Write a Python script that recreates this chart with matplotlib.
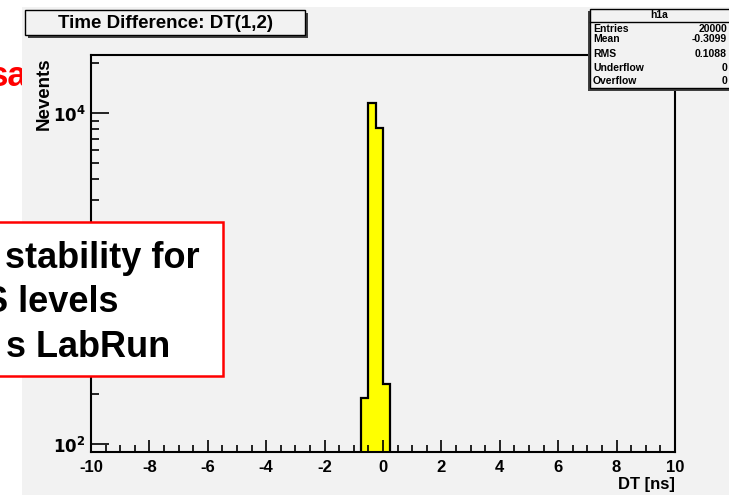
import numpy as np
import matplotlib.pyplot as plt
from matplotlib.patches import Rectangle
from matplotlib.ticker import LogLocator, FixedLocator, MultipleLocator

# DT(1,2) histogram, 0.25 ns bins (only non-empty bins listed)
bin_edges = [-0.75, -0.5, -0.25, 0.0, 0.25]
counts = [190, 11450, 8130, 230]

x_ticks = [-10, -8, -6, -4, -2, 0, 2, 4, 6, 8, 10]
y_ticks = [1e2, 1e3, 1e4]
# 10^3 sits under the slide's text box, so it's left blank
y_ticklabels = ['$\\mathbf{10^{2}}$', '', '$\\mathbf{10^{4}}$']

stats_names = ['Entries', 'Mean', 'RMS', 'Underflow', 'Overflow']
stats_values = ['20000', '-0.3099', '0.1088', '0', '0']

W, H = 729, 495
plt.rcParams['font.family'] = ['Liberation Sans', 'DejaVu Sans']
plt.rcParams['font.weight'] = 'bold'

fig = plt.figure(figsize=(W / 100, H / 100), dpi=100)
fig.patch.set_facecolor('white')

def px(x, y):
    # pixel coords (from top-left) -> figure fraction
    return x / W, 1 - y / H

# red slide text peeking out behind the canvas
fig.text(*px(27, 86), 'sa', color='red', fontsize=25, ha='right', va='baseline', zorder=0)

# ROOT canvas
fig.patches.append(Rectangle(px(22, 495), (W - 22) / W, (495 - 7) / H, transform=fig.transFigure,
                             facecolor='#f2f2f2', edgecolor='none', zorder=1))

left, right, top, bottom = 91, 675, 55, 452
ax = fig.add_axes([left / W, 1 - bottom / H, (right - left) / W, (bottom - top) / H], zorder=2)
ax.set_facecolor('#f2f2f2')

ax.stairs(counts, bin_edges, baseline=1, fill=True, facecolor='#ffff00', edgecolor='none')
ax.stairs(counts, bin_edges, baseline=1, color='black', linewidth=1.6)

ax.set_yscale('log')
ax.set_xlim(-10, 10)
ax.set_ylim(89.5, 22400)

ax.xaxis.set_major_locator(FixedLocator(x_ticks))
ax.xaxis.set_minor_locator(MultipleLocator(0.5))
ax.set_xticklabels([str(v) for v in x_ticks])
ax.yaxis.set_major_locator(FixedLocator(y_ticks))
ax.yaxis.set_minor_locator(LogLocator(base=10, subs=np.arange(2, 10)))
ax.yaxis.set_minor_formatter(plt.NullFormatter())
ax.set_yticklabels(y_ticklabels)

ax.tick_params(axis='x', which='major', direction='in', length=9, width=1.2, labelsize=12, pad=6)
ax.tick_params(axis='x', which='minor', direction='in', length=5, width=1.2)
ax.tick_params(axis='y', which='major', direction='in', length=13, width=1.2, labelsize=12, pad=4)
ax.tick_params(axis='y', which='minor', direction='in', length=6, width=1.2)
for s in ax.spines.values():
    s.set_linewidth(1.5)

fig.text(*px(675, 484), 'DT [ns]', fontsize=12, ha='right', va='center', zorder=3)
fig.text(*px(44, 57), 'Nevents', fontsize=13.5, rotation=90, ha='center', va='top', zorder=3)

# title box with shadow
fig.patches.append(Rectangle(px(28, 38), 280 / W, 25 / H, transform=fig.transFigure,
                             facecolor='#404040', edgecolor='none', zorder=3))
fig.patches.append(Rectangle(px(25, 35), 280 / W, 25 / H, transform=fig.transFigure,
                             facecolor='#f2f2f2', edgecolor='black', linewidth=1, zorder=3))
fig.text(*px(165, 23), 'Time Difference: DT(1,2)', fontsize=13.5, ha='center', va='center', zorder=4)

# stats box
fig.patches.append(Rectangle(px(588, 91), 145 / W, 80 / H, transform=fig.transFigure,
                             facecolor='#404040', edgecolor='none', zorder=3))
fig.patches.append(Rectangle(px(590, 88), 145 / W, 79 / H, transform=fig.transFigure,
                             facecolor='#f2f2f2', edgecolor='black', linewidth=1, zorder=3))
fig.lines.append(plt.Line2D([590 / W, 1], [1 - 22 / H] * 2, transform=fig.transFigure,
                            color='black', linewidth=1, zorder=4))
fig.text(*px(659, 15), 'h1a', fontsize=7.5, ha='center', va='center', zorder=4)
for name, val, y in zip(stats_names, stats_values, [29, 39, 54, 68, 81]):
    fig.text(*px(593, y), name, fontsize=7.5, ha='left', va='center', zorder=4)
    fig.text(*px(727, y), val, fontsize=7.5, ha='right', va='center', zorder=4)

# overlay text box from the slide
fig.patches.append(Rectangle(px(-5, 376), 228 / W, 154 / H, transform=fig.transFigure,
                             facecolor='white', edgecolor='red', linewidth=1.8, zorder=5))
fig.text(*px(5, 268), 'stability for', fontsize=26, ha='left', va='baseline', zorder=6)
fig.text(*px(-16, 312), 'S levels', fontsize=26, ha='left', va='baseline', zorder=6)
fig.text(*px(6, 357), 's LabRun', fontsize=26, ha='left', va='baseline', zorder=6)

fig.savefig('out.png', dpi=100)
